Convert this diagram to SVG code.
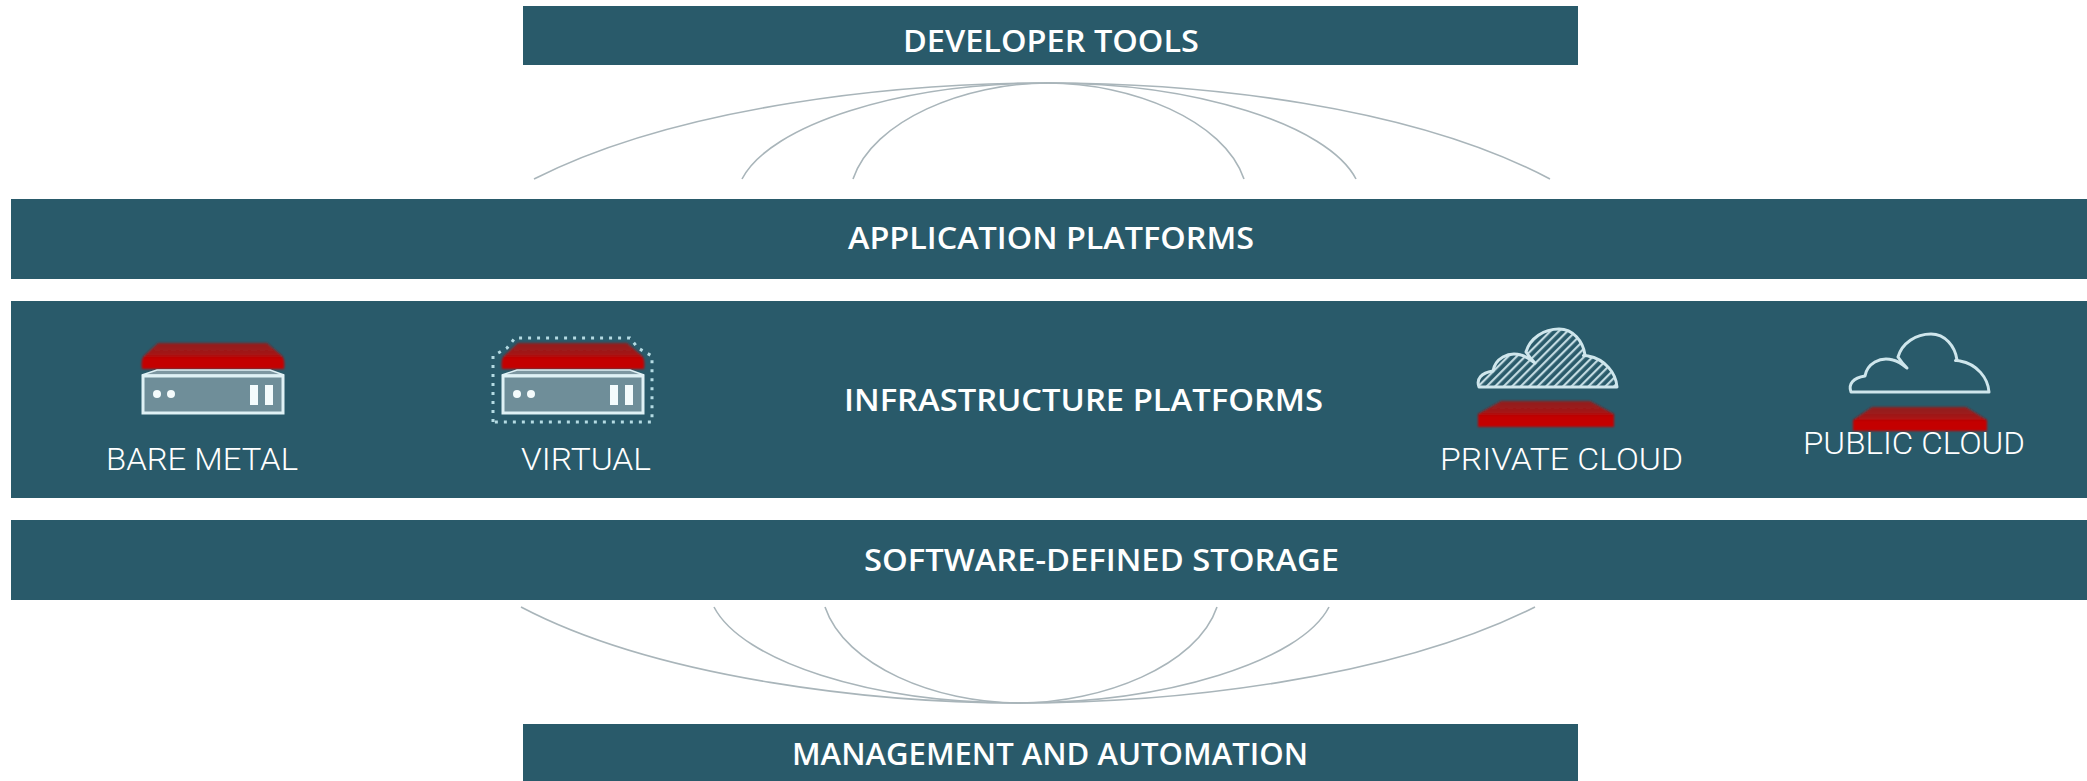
<svg xmlns="http://www.w3.org/2000/svg" width="2087" height="781" viewBox="0 0 2087 781">
<style>
.bar{fill:#295a6a}
.h{font-family:"Open Sans","Liberation Sans",sans-serif;font-weight:600;font-size:30px;fill:#fff}
.l{font-family:Roboto,"Liberation Sans",sans-serif;font-weight:300;font-size:32px;fill:#fff}
.arc{fill:none;stroke:#a9b5ba;stroke-width:1.6}
.srv{fill:#6f8e99;stroke:#dff1f5;stroke-width:3}
.w{fill:#f4fbfc}
.cl{stroke:#cfe6ec;stroke-width:3;stroke-linejoin:round}
</style>
<defs>
<linearGradient id="red" x1="0" y1="0" x2="0" y2="1"><stop offset="0" stop-color="#8f2020"/><stop offset=".45" stop-color="#a51616"/><stop offset=".6" stop-color="#c40000"/><stop offset="1" stop-color="#c40000"/></linearGradient>
<filter id="soft" x="-5%" y="-10%" width="110%" height="120%"><feGaussianBlur stdDeviation="1.1"/></filter>
<pattern id="hatch" width="6" height="6" patternUnits="userSpaceOnUse" patternTransform="rotate(45)"><rect width="6" height="6" fill="#295a6a"/><rect width="2.2" height="6" fill="#c3dbe2"/></pattern>
<path id="cloud" d="M1851 392C1848 384 1853 378 1865 376C1867 364 1880 356 1893 360C1897 361 1902 364 1907 368C1903 364 1900 360 1898 357C1902 343 1916 334 1931 334C1945 334 1955 346 1957 360C1953 361 1958 360 1960 361C1977 364 1988 378 1989 392Z"/>
<g id="server">
<path d="M142 369C141 362 142 357 145 355L158 343H267L281 355C284 357 285 362 284 369Z" fill="url(#red)" filter="url(#soft)"/>
<path d="M142 375L157 370H270L284 375Z" fill="#7d97a1" stroke="#dff1f5" stroke-width="1.5"/>
<rect class="srv" x="143" y="376" width="140" height="37"/>
<circle class="w" cx="157" cy="394" r="4"/><circle class="w" cx="171" cy="394" r="4"/>
<rect class="w" x="250" y="385" width="8" height="20"/><rect class="w" x="265" y="385" width="8" height="20"/>
</g>
</defs>
<rect id="developer-bar" class="bar" x="523" y="6" width="1055" height="59"/>
<rect id="app-bar" class="bar" x="11" y="199" width="2076" height="80"/>
<rect id="infra-bar" class="bar" x="11" y="301" width="2076" height="197"/>
<rect id="storage-bar" class="bar" x="11" y="520" width="2076" height="80"/>
<rect id="mgmt-bar" class="bar" x="523" y="724" width="1055" height="57"/>
<g id="connectors">
<path class="arc" d="M534 179C680 105 900 83 1048 83C1200 83 1410 105 1550 179"/>
<path class="arc" d="M742 179C770 125 900 83 1048 83C1196 83 1328 125 1356 179"/>
<path class="arc" d="M853 179C873 120 965 83 1048 83C1131 83 1224 120 1244 179"/>
<path class="arc" d="M521 607C660 680 880 703 1019 703C1170 703 1390 680 1535 607"/>
<path class="arc" d="M714 607C742 661 870 703 1019 703C1167 703 1301 661 1329 607"/>
<path class="arc" d="M825 607C845 666 936 703 1019 703C1102 703 1197 666 1217 607"/>
</g>
<g id="developer-tools"><text class="h" x="903" y="52" textLength="296" lengthAdjust="spacingAndGlyphs">DEVELOPER TOOLS</text></g>
<g id="application-platforms"><text class="h" x="848" y="249" textLength="406" lengthAdjust="spacingAndGlyphs">APPLICATION PLATFORMS</text></g>
<g id="infrastructure-platforms"><text class="h" x="844" y="411" textLength="479" lengthAdjust="spacingAndGlyphs">INFRASTRUCTURE PLATFORMS</text></g>
<g id="software-defined-storage"><text class="h" x="864" y="571" textLength="475" lengthAdjust="spacingAndGlyphs">SOFTWARE-DEFINED STORAGE</text></g>
<g id="management-automation"><text class="h" x="792" y="765" textLength="516" lengthAdjust="spacingAndGlyphs">MANAGEMENT AND AUTOMATION</text></g>
<g id="bare-metal">
<use href="#server"/>
<text class="l" x="106" y="470" textLength="192" lengthAdjust="spacingAndGlyphs">BARE METAL</text>
</g>
<g id="virtual">
<use href="#server" x="360"/>
<path d="M493 422V356L507 348L515 338H630L638 348L652 356V422Z" fill="none" stroke="#b5dbe3" stroke-width="3" stroke-dasharray="3 6"/>
<text class="l" x="521" y="470" textLength="130" lengthAdjust="spacingAndGlyphs">VIRTUAL</text>
</g>
<g id="private-cloud">
<use href="#cloud" x="-372" y="-5" fill="url(#hatch)" class="cl"/>
<path d="M1478 427V414L1501 401H1590L1614 414V427Z" fill="url(#red)" filter="url(#soft)"/>
<text class="l" x="1440" y="470" textLength="243" lengthAdjust="spacingAndGlyphs">PRIVATE CLOUD</text>
</g>
<g id="public-cloud">
<use href="#cloud" fill="none" class="cl"/>
<path d="M1853 431V420L1872 407H1966L1987 420V431Z" fill="url(#red)" filter="url(#soft)"/>
<text class="l" x="1803" y="454" textLength="222" lengthAdjust="spacingAndGlyphs">PUBLIC CLOUD</text>
</g>
</svg>
